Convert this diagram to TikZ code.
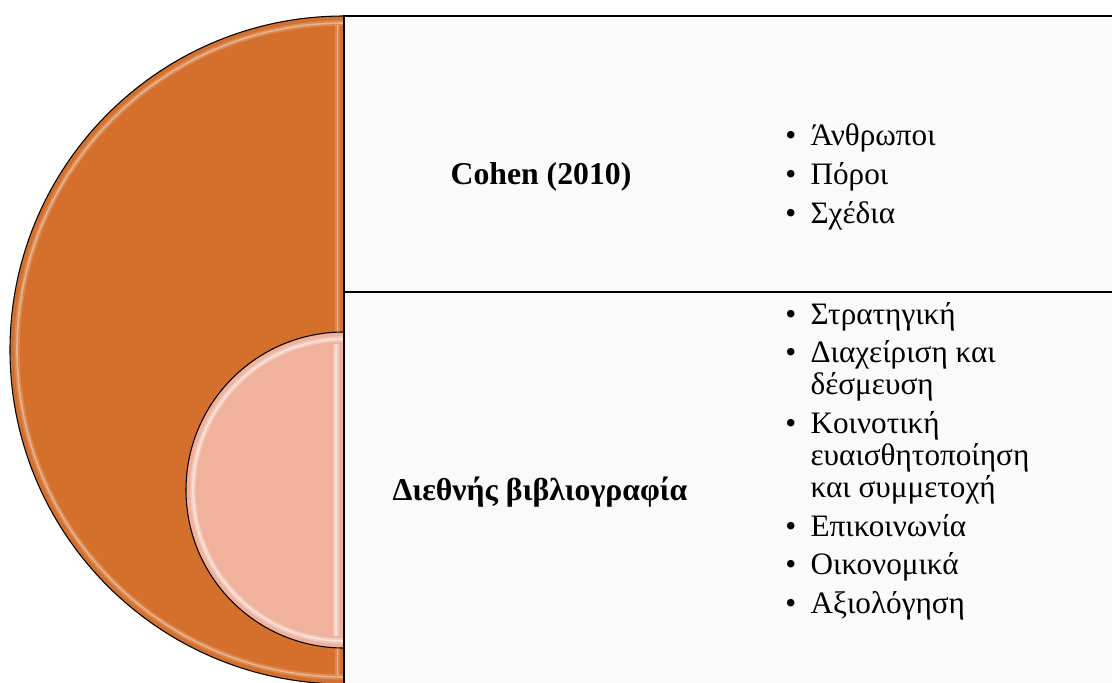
\documentclass[tikz,border=0pt]{standalone}
\usepackage{fontspec}
\setmainfont{Liberation Serif}
\usetikzlibrary{positioning}

\definecolor{bigorange}{HTML}{D4702C}
\definecolor{smallpeach}{HTML}{F0B29C}
\definecolor{boxgray}{HTML}{FAFAFA}

\newcommand{\itm}{\makebox[19pt][l]{•}}
\newcommand{\cnt}{\hspace*{19pt}}
\newcommand{\itemgap}{5pt}

\tikzset{
	halfdisc/.style={draw=black, line width=0.8pt},
	glow/.style={white, line width=4pt, opacity=0.18},
	glowcore/.style={white, line width=1.2pt, opacity=0.35},
	boxline/.style={draw=black, line width=1.6pt},
	boxtitle/.style={font=\bfseries\fontsize{23.8}{28}\selectfont, inner sep=0pt},
	bulletlist/.style={font=\fontsize{23.4}{24}\selectfont, align=left, anchor=west, inner sep=0pt},
}

\begin{document}
\begin{tikzpicture}[x=0.75pt,y=-0.75pt]
			\useasboundingbox (0,0) rectangle (1112,682);
			\clip (0,0) rectangle (1112,682);
			\pgfmathsetmacro{\bigr}{334}
			\pgfmathsetmacro{\smallr}{158}
			\coordinate (bigc) at (344,350);
			\coordinate (smallc) at (344,490);
			\fill[white] (0,0) rectangle (1112,682);
			\draw[halfdisc,fill=bigorange] (bigc) ++(0,-\bigr) arc[start angle=270, end angle=90, radius=\bigr] -- cycle;
			\draw[glow] (bigc) ++(0,-\bigr+7) arc[start angle=270, end angle=90, radius=\bigr-7];
			\draw[glowcore] (bigc) ++(0,-\bigr+7) arc[start angle=270, end angle=90, radius=\bigr-7];
			\draw[glow] ([xshift=-5]bigc) ++(0,-\bigr+9) -- ++(0,2*\bigr-18);
			\draw[glowcore] ([xshift=-5]bigc) ++(0,-\bigr+9) -- ++(0,2*\bigr-18);
			\draw[halfdisc,fill=smallpeach] (smallc) ++(0,-\smallr) arc[start angle=270, end angle=90, radius=\smallr] -- cycle;
			\draw[glow,opacity=0.3] (smallc) ++(0,-\smallr+7) arc[start angle=270, end angle=90, radius=\smallr-7];
			\draw[glowcore,opacity=0.5] (smallc) ++(0,-\smallr+7) arc[start angle=270, end angle=90, radius=\smallr-7];
			\draw[glow,opacity=0.3] ([xshift=-6]smallc) ++(0,-\smallr+12) -- ++(0,2*\smallr-24);
			\draw[glowcore,opacity=0.5] ([xshift=-6]smallc) ++(0,-\smallr+12) -- ++(0,2*\smallr-24);
			\fill[boxgray] (344,16) rectangle (1120,690);
			\draw[boxline] (1120,16) -- (344,16) -- (344,690);
			\draw[boxline] (344,292) -- (1120,292);
			\node[boxtitle] (cohen) at (541,177) {Cohen (2010)};
			\node[boxtitle] (intl) at (540,492) {Διεθνής βιβλιογραφία};
			\node[bulletlist] (cohenlist) at (785,177) {\itm Άνθρωποι\\[\itemgap]\itm Πόροι\\[\itemgap]\itm Σχέδια};
			\node[bulletlist] (intllist) at (785,461) {\itm Στρατηγική\\[\itemgap]\itm Διαχείριση και\\\cnt δέσμευση\\[\itemgap]\itm Κοινοτική\\\cnt ευαισθητοποίηση\\\cnt και συμμετοχή\\[\itemgap]\itm Επικοινωνία\\[\itemgap]\itm Οικονομικά\\[\itemgap]\itm Αξιολόγηση};
		\end{tikzpicture}
\end{document}
